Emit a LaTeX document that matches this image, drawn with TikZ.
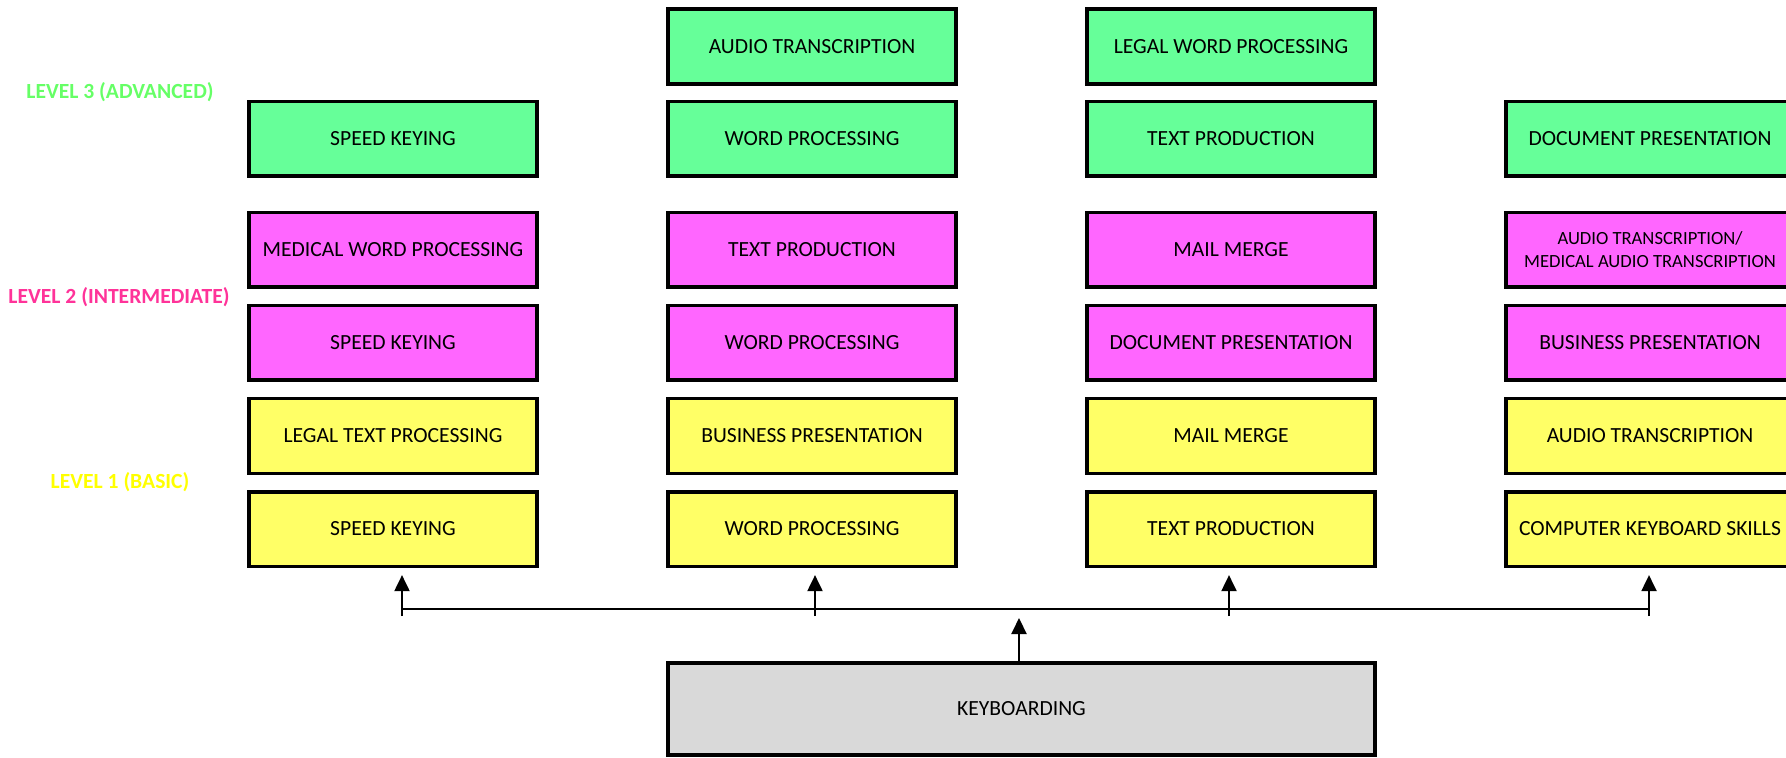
\documentclass[tikz,border=0pt]{standalone}
\usepackage{fontspec}
\setmainfont{Carlito}
\usepackage{tikz}
\usetikzlibrary{positioning}
\usetikzlibrary{arrows.meta}
\definecolor{basicfill}{HTML}{FFFF66}
\definecolor{interfill}{HTML}{FF66FF}
\definecolor{advfill}{HTML}{66FF99}
\definecolor{keyfill}{HTML}{D9D9D9}
\definecolor{basictext}{HTML}{FFFF00}
\definecolor{intertext}{HTML}{FF3399}
\definecolor{advtext}{HTML}{66FF66}
\tikzstyle{course} = [rectangle, draw, line width=1.8pt, minimum width=144.2pt,
    minimum height=37.3pt, inner sep=2pt, align=center,
    font=\fontsize{10.8}{13}\selectfont, node distance=46.5pt]
\tikzstyle{basic} = [course, fill=basicfill]
\tikzstyle{inter} = [course, fill=interfill]
\tikzstyle{adv} = [course, fill=advfill]
\tikzstyle{level} = [font=\bfseries\fontsize{10.8}{13}\selectfont]
\tikzstyle{line} = [draw, line width=1pt, -{Triangle[length=8pt, width=7.5pt]}]

\begin{document}
\begin{tikzpicture}[x=0.5pt, y=-0.5pt, node distance=46.5pt]
    \useasboundingbox (0,0) rectangle (1786,758);
    % Level labels
    \node [level, text=advtext] (l3) at (120,92) {LEVEL 3 (ADVANCED)};
    \node [level, text=intertext] (l2) at (119,297) {LEVEL 2 (INTERMEDIATE)};
    \node [level, text=basictext] (l1) at (120,482) {LEVEL 1 (BASIC)};
    % Basic row
    \node [basic] (bsk) at (393,529) {SPEED KEYING};
    \node [basic, right of=bsk, node distance=209.5pt] (bwp) {WORD PROCESSING};
    \node [basic, right of=bwp, node distance=209.5pt] (btp) {TEXT PRODUCTION};
    \node [basic, right of=btp, node distance=209.5pt] (bck) {COMPUTER KEYBOARD SKILLS};
    \node [basic, above of=bsk] (blt) {LEGAL TEXT PROCESSING};
    \node [basic, above of=bwp] (bbp) {BUSINESS PRESENTATION};
    \node [basic, above of=btp] (bmm) {MAIL MERGE};
    \node [basic, above of=bck] (bat) {AUDIO TRANSCRIPTION};
    % Intermediate rows
    \node [inter, above of=blt] (isk) {SPEED KEYING};
    \node [inter, above of=bbp] (iwp) {WORD PROCESSING};
    \node [inter, above of=bmm] (idp) {DOCUMENT PRESENTATION};
    \node [inter, above of=bat] (ibp) {BUSINESS PRESENTATION};
    \node [inter, above of=isk] (imw) {MEDICAL WORD PROCESSING};
    \node [inter, above of=iwp] (itp) {TEXT PRODUCTION};
    \node [inter, above of=idp] (imm) {MAIL MERGE};
    \node [inter, above of=ibp, font=\fontsize{9.3}{11.5}\selectfont] (iat)
        {AUDIO TRANSCRIPTION/\\MEDICAL AUDIO TRANSCRIPTION};
    % Advanced rows
    \node [adv, above of=imw, node distance=55.5pt] (ask) {SPEED KEYING};
    \node [adv, above of=itp, node distance=55.5pt] (awp) {WORD PROCESSING};
    \node [adv, above of=imm, node distance=55.5pt] (atp) {TEXT PRODUCTION};
    \node [adv, above of=iat, node distance=55.5pt] (adp) {DOCUMENT PRESENTATION};
    \node [adv, above of=awp, node distance=46.25pt] (aat) {AUDIO TRANSCRIPTION};
    \node [adv, above of=atp, node distance=46.25pt] (alw) {LEGAL WORD PROCESSING};
    % Keyboarding
    \node [course, fill=keyfill, minimum width=353.7pt, minimum height=46.2pt] (kb)
        at (1021.5,709) {KEYBOARDING};
    % Draw edges
    \coordinate (t1) at (402,616);
    \coordinate (t2) at (815,616);
    \coordinate (t3) at (1229,616);
    \coordinate (t4) at (1649,616);
    \coordinate (h1) at (402,609);
    \coordinate (h4) at (1649,609);
    \coordinate (kbup) at (1019,618);
    \draw [line width=1pt] (h1) -- (h4);
    \path [line, shorten >=3.5pt] (t1) -- (t1 |- bsk.south);
    \path [line, shorten >=3.5pt] (t2) -- (t2 |- bwp.south);
    \path [line, shorten >=3.5pt] (t3) -- (t3 |- btp.south);
    \path [line, shorten >=3.5pt] (t4) -- (t4 |- bck.south);
    \path [line] (kbup |- kb.north) -- (kbup);
\end{tikzpicture}
\end{document}
